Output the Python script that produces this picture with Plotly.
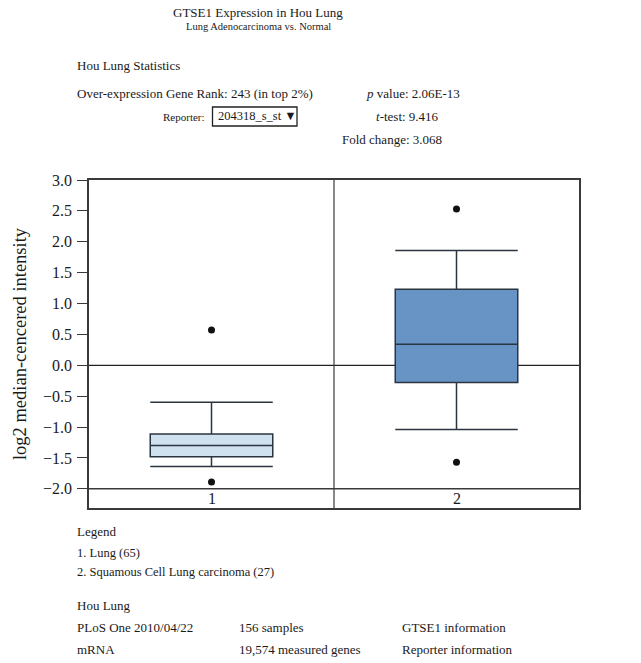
import plotly.graph_objects as go

# ---- data ----
categories = [1, 2]
category_labels = ["1", "2"]
q1 = [-1.48, -0.28]
median = [-1.30, 0.34]
q3 = [-1.11, 1.23]
lower_whisker = [-1.64, -1.04]
upper_whisker = [-0.60, 1.86]
outlier_x = [1, 1, 2, 2]
outlier_y = [0.57, -1.89, 2.53, -1.57]
box_fills = ["#cfe0ef", "#6894c5"]
y_ticks = [-2.0, -1.5, -1.0, -0.5, 0.0, 0.5, 1.0, 1.5, 2.0, 2.5, 3.0]

FONT = "Liberation Serif"
W, H = 641, 663
L, R, T, B = 89, 579, 180, 508


def X(px):
    return (px - L) / (R - L)


def Y(py):
    return (B - py) / (B - T)


fig = go.Figure()
for i, c in enumerate(categories):
    fig.add_trace(go.Box(
        x=[c], q1=[q1[i]], median=[median[i]], q3=[q3[i]],
        lowerfence=[lower_whisker[i]], upperfence=[upper_whisker[i]],
        width=0.5, whiskerwidth=1, fillcolor=box_fills[i],
        line=dict(color="#2b3540", width=1.5), boxpoints=False,
        showlegend=False, hoverinfo="skip",
    ))

fig.add_trace(go.Scatter(
    x=outlier_x, y=outlier_y, mode="markers",
    marker=dict(color="#111111", size=7), showlegend=False, hoverinfo="skip",
))

ymin = -2.31
fig.update_layout(
    width=W, height=H,
    margin=dict(l=L, r=W - R, t=T, b=H - B),
    paper_bgcolor="white", plot_bgcolor="white",
    font=dict(family=FONT, color="#1a1a1a"),
    xaxis=dict(range=[0.5, 2.5], showticklabels=False, ticks="",
               showgrid=False, zeroline=False, showline=True, mirror=True,
               linecolor="#3a3a3a", linewidth=1.5),
    yaxis=dict(range=[ymin, 3.0], tickvals=y_ticks, tickformat=".1f",
               ticks="outside", ticklen=10, tickcolor="#3a3a3a", tickwidth=1.2,
               tickfont=dict(size=16, family=FONT), ticklabelstandoff=2,
               showgrid=False, zeroline=False, showline=True, mirror=True,
               linecolor="#3a3a3a", linewidth=1.5,
               title=dict(text="log2 median-cencered intensity",
                          font=dict(size=18.5, family=FONT), standoff=12)),
)

# zero line, label-row line, vertical divider
fig.add_shape(type="line", xref="paper", yref="y", x0=0, x1=1, y0=0, y1=0,
              line=dict(color="#222222", width=1.3), layer="below")
fig.add_shape(type="line", xref="paper", yref="y", x0=0, x1=1, y0=-2.0, y1=-2.0,
              line=dict(color="#3a3a3a", width=1.5))
fig.add_shape(type="line", xref="x", yref="paper", x0=1.5, x1=1.5, y0=0, y1=1,
              line=dict(color="#3a3a3a", width=1.2), layer="below")

for c, lab in zip(categories, category_labels):
    fig.add_annotation(x=c, y=(-2.0 + ymin) / 2, xref="x", yref="y", text=lab,
                       showarrow=False, font=dict(size=16, family=FONT))


def txt(px, py, text, size=13, anchor="left"):
    fig.add_annotation(x=X(px), y=Y(py), xref="paper", yref="paper", text=text,
                       showarrow=False, xanchor=anchor, yanchor="middle",
                       font=dict(size=size, family=FONT, color="#1a1a1a"))


txt(258, 12, "GTSE1 Expression in Hou Lung", 13, "center")
txt(258, 27, "Lung Adenocarcinoma vs. Normal", 10.5, "center")
txt(75, 66, "Hou Lung Statistics", 13)
txt(75, 93, "Over-expression Gene Rank: 243 (in top 2%)", 13)
txt(207, 117, "Reporter:", 11, "right")
txt(216, 116, "204318_s_st ▼", 12.5)
fig.add_shape(type="rect", xref="paper", yref="paper",
              x0=X(212.5), x1=X(297), y0=Y(107), y1=Y(126),
              line=dict(color="#222222", width=1.3))
txt(364, 93, "<i>p</i> value: 2.06E-13", 13)
txt(374, 116, "<i>t</i>-test: 9.416", 13)
txt(340, 139, "Fold change: 3.068", 13)

txt(75, 531, "Legend", 13)
txt(75, 553, "1. Lung (65)", 12.5)
txt(75, 572, "2. Squamous Cell Lung carcinoma (27)", 12.5)
txt(75, 605, "Hou Lung", 13)
txt(75, 627, "PLoS One 2010/04/22", 13)
txt(237, 627, "156 samples", 13)
txt(400, 627, "GTSE1 information", 13)
txt(75, 649, "mRNA", 13)
txt(237, 649, "19,574 measured genes", 13)
txt(400, 649, "Reporter information", 13)

fig.write_html(
    "out.html",
    config={"displayModeBar": False},
    post_script="document.body.style.margin='0';document.body.style.overflow='hidden';",
)
